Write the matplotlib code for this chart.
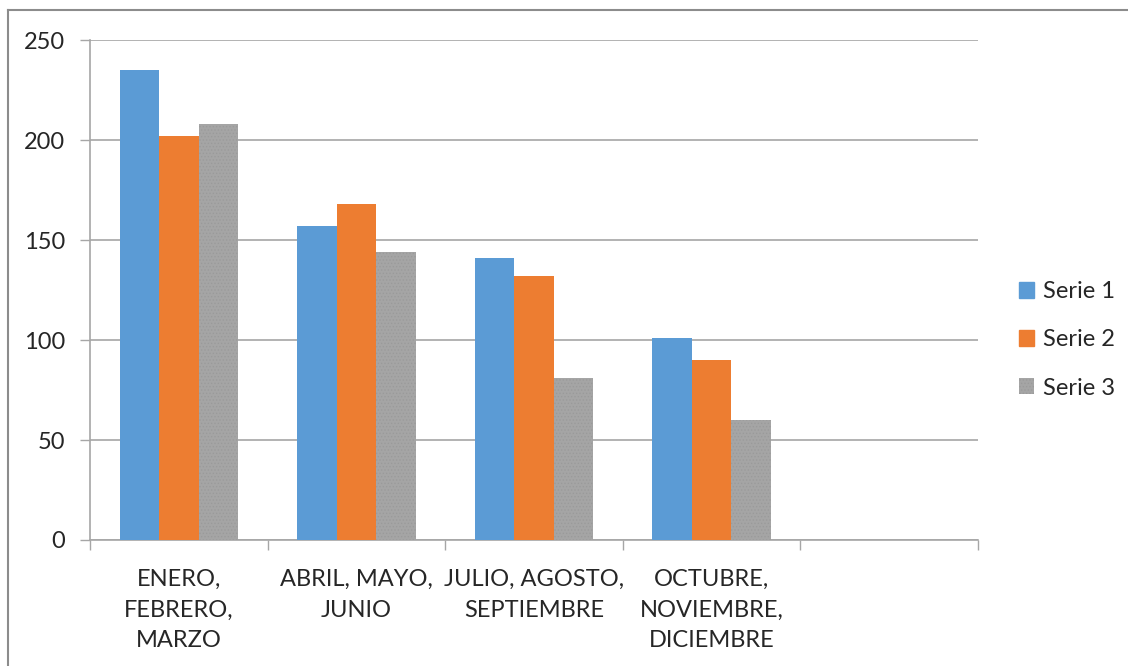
import numpy as np
import matplotlib
matplotlib.use('Agg')
import matplotlib.pyplot as plt
from matplotlib.lines import Line2D

plt.rcParams['font.family'] = ['Lato', 'DejaVu Sans']
plt.rcParams['hatch.linewidth'] = 0.6

# Data
categories = ['ENERO,\nFEBRERO,\nMARZO', 'ABRIL, MAYO,\nJUNIO',
              'JULIO, AGOSTO,\nSEPTIEMBRE', 'OCTUBRE,\nNOVIEMBRE,\nDICIEMBRE', '']
serie1 = [235, 157, 141, 101, np.nan]
serie2 = [202, 168, 132, 90, np.nan]
serie3 = [208, 144, 81, 60, np.nan]
series_names = ['Serie 1', 'Serie 2', 'Serie 3']
colors = ['#5B9BD5', '#ED7D31', '#A5A5A5']

fig = plt.figure(figsize=(11.28, 6.66), dpi=100)
ax = fig.add_axes([90 / 1128, 1 - 540 / 666, (978 - 90) / 1128, 500 / 666])

x = np.arange(len(categories))
w = 1 / 4.5
for i, (vals, name, c) in enumerate(zip([serie1, serie2, serie3], series_names, colors)):
    if i == 2:
        ax.bar(x + (i - 1) * w, vals, w, color=c, label=name, hatch='.....',
               edgecolor='#9A9A9A', linewidth=0, zorder=3)
    else:
        ax.bar(x + (i - 1) * w, vals, w, color=c, label=name, linewidth=0, zorder=3)

ax.set_xlim(-0.5, 4.5)
ax.set_ylim(0, 250)
ax.set_yticks(range(0, 251, 50))
ax.yaxis.grid(True, color='#A6A6A6', linewidth=1.2, zorder=0)

# ticks at the category boundaries, labels centred on the groups
ax.set_xticks(np.arange(-0.5, 5, 1))
ax.set_xticklabels([])
ax.set_xticks(x, minor=True)
ax.set_xticklabels(categories, minor=True, fontsize=17, color='#262626', linespacing=1.55)
ax.tick_params(axis='x', which='minor', length=0, pad=21)
ax.tick_params(axis='x', which='major', length=7, width=1, color='#A6A6A6')
ax.tick_params(axis='y', length=7, width=1, color='#A6A6A6', labelsize=17,
               labelcolor='#262626', pad=11)

for s in ['top', 'right']:
    ax.spines[s].set_visible(False)
for s in ['left', 'bottom']:
    ax.spines[s].set_color('#A6A6A6')
    ax.spines[s].set_linewidth(1.2)

# legend
handles = [plt.Rectangle((0, 0), 1, 1, color=c) for c in colors]
handles[2] = plt.Rectangle((0, 0), 1, 1, facecolor=colors[2], hatch='.....',
                           edgecolor='#9A9A9A', linewidth=0)
fig.legend(handles, series_names, loc='center left', bbox_to_anchor=(1019 / 1128, 1 - 340 / 666),
           frameon=False, fontsize=17, handlelength=0.65, handleheight=0.65,
           handletextpad=0.35, labelspacing=1.15, labelcolor='#262626',
           borderpad=0, borderaxespad=0)

# outer chart border (left and top edges visible)
fig.add_artist(Line2D([8 / 1128, 8 / 1128], [0, 1 - 10 / 666], transform=fig.transFigure,
                      color='#8C8C8C', linewidth=1.5))
fig.add_artist(Line2D([8 / 1128, 1], [1 - 10 / 666, 1 - 10 / 666], transform=fig.transFigure,
                      color='#8C8C8C', linewidth=1.5))

fig.savefig('out.png', dpi=100)
